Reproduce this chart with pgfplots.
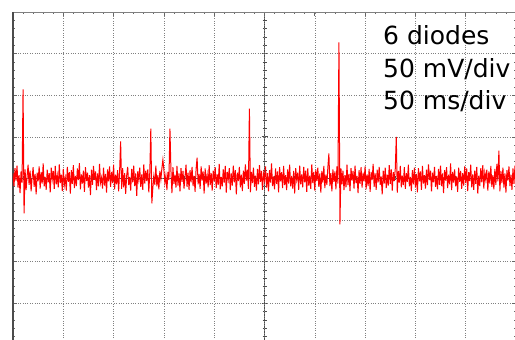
\documentclass[border=0pt]{standalone}
\usepackage{pgfplots}
\pgfplotsset{compat=1.18}
\usepackage{fontspec}
\setmainfont{DejaVu Sans}
\begin{document}
\begin{tikzpicture}[x=1pt,y=1pt]
\useasboundingbox (0,0) rectangle (515,340);
% centre cross with ticks
\begin{axis}[at={(13pt,328pt)}, anchor=north west, scale only axis, width=503pt, height=333pt,
 xmin=-5,xmax=5,ymin=-4,ymax=4, axis lines=middle,
 axis line style={-, black!70, line width=1.3pt},
 every inner x axis line/.append style={-}, every inner y axis line/.append style={-},
 xtick={-5,...,5}, ytick={-4,...,4}, xticklabels={}, yticklabels={},
 minor x tick num=4, minor y tick num=4,
 tick align=center, major tick length=6pt, minor tick length=4pt,
 tick style={black!70, line width=0.8pt}]
\end{axis}
\begin{axis}[at={(13pt,328pt)}, anchor=north west, scale only axis, width=503pt, height=333pt,
 xmin=0,xmax=10,ymin=-4,ymax=4,
 xtick={0,...,10}, ytick={-4,...,4}, xticklabels={}, yticklabels={},
 minor x tick num=4, minor y tick num=4,
 grid=major, major grid style={black!50, dotted, line width=0.6pt},
 tick align=inside, major tick length=4pt, minor tick length=2.5pt,
 tick style={black!60, line width=0.7pt},
 separate axis lines,
 x axis line style={black!50, line width=0.8pt},
 y axis line style={black!70, line width=1.6pt},
 clip=true]
\addplot[red, line width=1pt] table[row sep=\\, x expr=\coordindex/50, y index=0] {
y\\
0.12\\ -0.18\\ 0.25\\ -0.05\\ 0.31\\ -0.22\\ 0.08\\ -0.35\\ 0.17\\ -0.10\\ 2.14\\ -0.84\\ 0.22\\ -0.28\\ 0.05\\ 0.33\\ -0.15\\ 0.19\\ -0.31\\ 0.02\\ 0.27\\ -0.20\\ 0.11\\ -0.38\\ 0.14\\
-0.07\\ 0.29\\ -0.24\\ 0.16\\ -0.12\\ 0.36\\ -0.19\\ 0.04\\ -0.27\\ 0.21\\ -0.09\\ 0.13\\ -0.33\\ 0.26\\ -0.02\\ 0.18\\ -0.25\\ 0.30\\ -0.14\\ 0.07\\ -0.21\\ 0.34\\ -0.11\\ 0.09\\ -0.30\\
0.23\\ -0.16\\ 0.01\\ -0.29\\ 0.28\\ -0.08\\ 0.15\\ -0.36\\ 0.20\\ -0.13\\ 0.32\\ -0.23\\ 0.06\\ -0.18\\ 0.24\\ -0.04\\ 0.37\\ -0.26\\ 0.10\\ -0.12\\ 0.19\\ -0.32\\ 0.27\\ -0.06\\ 0.14\\
-0.22\\ 0.08\\ -0.40\\ 0.21\\ -0.15\\ 0.30\\ -0.03\\ 0.17\\ -0.28\\ 0.12\\ -0.19\\ 0.35\\ -0.10\\ 0.02\\ -0.24\\ 0.26\\ -0.17\\ 0.11\\ -0.34\\ 0.22\\ -0.07\\ 0.29\\ -0.20\\ 0.16\\ -0.11\\
0.33\\ -0.26\\ 0.09\\ -0.14\\ 0.20\\ -0.31\\ 0.18\\ 0.89\\ -0.25\\ 0.25\\ -0.21\\ 0.13\\ -0.37\\ 0.07\\ 0.28\\ -0.16\\ 0.04\\ -0.29\\ 0.23\\ -0.09\\ 0.31\\ -0.18\\ 0.12\\ -0.42\\ 0.17\\
-0.03\\ 0.26\\ -0.20\\ 0.10\\ -0.27\\ 0.34\\ -0.12\\ 0.19\\ -0.06\\ 0.22\\ -0.33\\ 0.15\\ 1.20\\ -0.60\\ -0.23\\ 0.05\\ -0.15\\ 0.31\\ -0.19\\ 0.08\\ -0.26\\ 0.18\\ -0.02\\ 0.24\\ 0.45\\
0.21\\ -0.11\\ 0.07\\ -0.28\\ 0.16\\ -0.04\\ 1.20\\ 0.19\\ -0.35\\ 0.27\\ -0.13\\ 0.09\\ -0.22\\ 0.30\\ -0.17\\ 0.12\\ -0.31\\ 0.25\\ -0.08\\ 0.18\\ -0.24\\ 0.03\\ 0.33\\ -0.20\\ 0.14\\
-0.27\\ 0.20\\ -0.09\\ 0.28\\ -0.18\\ 0.06\\ -0.32\\ 0.23\\ 0.50\\ -0.14\\ 0.11\\ -0.25\\ 0.29\\ -0.05\\ 0.17\\ -0.36\\ 0.24\\ -0.12\\ 0.08\\ -0.21\\ 0.32\\ -0.16\\ 0.13\\ -0.29\\ 0.19\\
-0.07\\ 0.27\\ -0.23\\ 0.10\\ -0.15\\ 0.35\\ -0.26\\ 0.04\\ -0.19\\ 0.22\\ -0.10\\ 0.30\\ -0.34\\ 0.16\\ -0.02\\ 0.25\\ -0.28\\ 0.12\\ -0.17\\ 0.31\\ -0.09\\ 0.20\\ -0.38\\ 0.14\\ -0.06\\
0.28\\ -0.21\\ 0.09\\ -0.30\\ 0.19\\ -0.13\\ 0.34\\ -0.05\\ 0.21\\ -0.25\\ 1.68\\ -0.33\\ 0.16\\ -0.11\\ 0.26\\ -0.20\\ 0.07\\ -0.29\\ 0.23\\ -0.14\\ 0.32\\ -0.08\\ 0.18\\ -0.27\\ 0.11\\
-0.04\\ 0.29\\ -0.22\\ 0.13\\ -0.31\\ 0.20\\ -0.10\\ 0.36\\ -0.18\\ 0.05\\ -0.26\\ 0.24\\ -0.13\\ 0.17\\ -0.33\\ 0.27\\ -0.07\\ 0.15\\ -0.23\\ 0.30\\ -0.16\\ 0.08\\ -0.28\\ 0.22\\ -0.12\\
0.33\\ -0.19\\ 0.06\\ -0.24\\ 0.18\\ -0.36\\ 0.25\\ -0.03\\ 0.14\\ -0.27\\ 0.31\\ -0.14\\ 0.10\\ -0.21\\ 0.28\\ -0.09\\ 0.19\\ -0.32\\ 0.24\\ -0.17\\ 0.07\\ -0.25\\ 0.34\\ -0.11\\ 0.16\\
-0.29\\ 0.21\\ -0.06\\ 0.26\\ -0.20\\ 0.12\\ -0.34\\ 0.18\\ -0.10\\ 0.30\\ -0.23\\ 0.09\\ -0.15\\ 0.27\\ 0.60\\ -0.18\\ 0.13\\ -0.31\\ 0.22\\ -0.08\\ 0.17\\ -0.26\\ 0.29\\ -0.12\\ 3.27\\
-1.10\\ 0.24\\ -0.14\\ 0.19\\ -0.28\\ 0.08\\ -0.21\\ 0.33\\ -0.16\\ 0.11\\ -0.30\\ 0.25\\ -0.05\\ 0.18\\ -0.24\\ 0.31\\ -0.11\\ 0.06\\ -0.35\\ 0.20\\ -0.13\\ 0.27\\ -0.22\\ 0.14\\ -0.07\\
0.29\\ -0.26\\ 0.10\\ -0.18\\ 0.23\\ -0.32\\ 0.16\\ -0.04\\ 0.35\\ -0.20\\ 0.12\\ -0.27\\ 0.21\\ -0.09\\ 0.28\\ -0.15\\ 0.05\\ -0.38\\ 0.19\\ -0.12\\ 0.26\\ -0.23\\ 0.09\\ -0.17\\ 0.32\\
-0.13\\ 0.22\\ -0.29\\ 0.15\\ -0.06\\ 0.24\\ 1.00\\ -0.34\\ 0.18\\ -0.10\\ 0.30\\ -0.21\\ 0.07\\ -0.16\\ 0.27\\ -0.25\\ 0.13\\ -0.08\\ 0.33\\ -0.19\\ 0.04\\ -0.30\\ 0.20\\ -0.14\\ 0.26\\
-0.22\\ 0.11\\ -0.33\\ 0.25\\ -0.07\\ 0.17\\ -0.27\\ 0.30\\ -0.12\\ 0.08\\ -0.24\\ 0.21\\ -0.16\\ 0.34\\ -0.04\\ 0.19\\ -0.31\\ 0.14\\ -0.09\\ 0.28\\ -0.20\\ 0.06\\ -0.26\\ 0.23\\ -0.15\\
0.31\\ -0.18\\ 0.12\\ -0.35\\ 0.20\\ -0.05\\ 0.27\\ -0.23\\ 0.09\\ -0.14\\ 0.36\\ -0.28\\ 0.16\\ -0.10\\ 0.22\\ -0.19\\ 0.05\\ -0.32\\ 0.26\\ -0.08\\ 0.18\\ -0.25\\ 0.13\\ -0.17\\ 0.29\\
-0.11\\ 0.24\\ -0.30\\ 0.15\\ -0.06\\ 0.33\\ -0.21\\ 0.10\\ -0.27\\ 0.19\\ -0.13\\ 0.28\\ -0.36\\ 0.07\\ -0.18\\ 0.25\\ -0.09\\ 0.32\\ -0.24\\ 0.14\\ -0.03\\ 0.21\\ -0.29\\ 0.17\\ -0.12\\
0.30\\ -0.20\\ 0.08\\ -0.26\\ 0.23\\ -0.15\\ 0.35\\ -0.07\\ 0.67\\ -0.31\\ 0.18\\ -0.11\\ 0.26\\ -0.22\\ 0.12\\ -0.34\\ 0.20\\ -0.05\\ 0.29\\ -0.18\\ 0.09\\ -0.27\\ 0.24\\ -0.13\\ 0.31\\
};
\end{axis}
\node[anchor=base west, font=\fontsize{25}{30}\selectfont, inner sep=0pt] at (383,295) {6 diodes};
\node[anchor=base west, font=\fontsize{25}{30}\selectfont, inner sep=0pt] at (383,262) {50 mV/div};
\node[anchor=base west, font=\fontsize{25}{30}\selectfont, inner sep=0pt] at (383,230) {50 ms/div};
\end{tikzpicture}
\end{document}
